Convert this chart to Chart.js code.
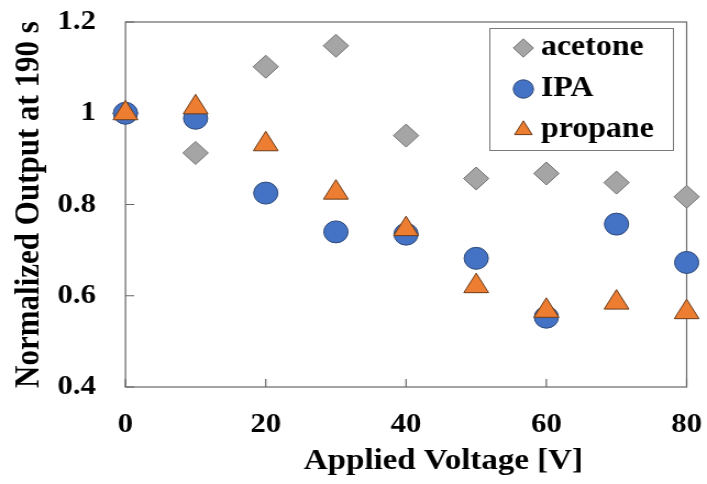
<!DOCTYPE html>
<html>
<head>
<meta charset="utf-8">
<script src="https://cdn.jsdelivr.net/npm/chart.js@4/dist/chart.umd.min.js"></script>
<style>
  html, body { margin: 0; padding: 0; background: #ffffff; overflow: hidden; }
  #wrap { width: 707px; height: 484px; overflow: hidden; }
  /* the figure is drawn a little narrower and widened horizontally */
  #chart { display: block; transform: scaleX(1.0995); transform-origin: 0 0; }
</style>
</head>
<body>
<div id="wrap"><canvas id="chart" width="643" height="484"></canvas></div>
<script>
// Applied voltage (V)
const voltages = [0, 10, 20, 30, 40, 50, 60, 70, 80];
// Normalized output at 190 s for each gas
const acetone = [1.0, 0.913, 1.102, 1.148, 0.951, 0.857, 0.868, 0.848, 0.817];
const ipa     = [1.0, 0.989, 0.825, 0.740, 0.735, 0.682, 0.553, 0.757, 0.673];
const propane = [1.0, 1.013, 0.932, 0.826, 0.746, 0.621, 0.567, 0.585, 0.564];
// Axis ranges and steps
const xTicks = [0, 20, 40, 60, 80];
const yTicks = [0.4, 0.6, 0.8, 1.0, 1.2];
const xTitle = 'Applied Voltage [V]';
const yTitle = 'Normalized Output at 190 s';

const serif = "'Liberation Serif', 'Times New Roman', Times, serif";
const frameColor = '#666666';

function points(ys) {
  return voltages.map((v, i) => ({ x: v, y: ys[i] }));
}

// fixed axis sizes; the outer layout padding alone sets the plot edges
function fixSize(prop, value) {
  return scale => {
    scale[prop] = value;
    scale.paddingTop = scale.paddingBottom = 0;
    scale.paddingLeft = scale.paddingRight = 0;
  };
}

// Plot frame with short inward tick marks, legend box and the x axis title
const framePlugin = {
  id: 'frame',
  beforeDraw(chart) {
    const a = chart.chartArea;
    const ctx = chart.ctx;
    ctx.save();
    const bx = a.right - 180, by = a.top + 6, bw = 167, bh = 122;
    ctx.fillStyle = '#ffffff';
    ctx.fillRect(bx, by, bw, bh);
    ctx.strokeStyle = '#7a7a7a';
    ctx.lineWidth = 1;
    ctx.strokeRect(Math.round(bx) + 0.5, Math.round(by) + 0.5, bw, bh);
    ctx.restore();
  },
  beforeDatasetsDraw(chart) {
    const a = chart.chartArea;
    const ctx = chart.ctx;
    const xs = chart.scales.x, ys = chart.scales.y;
    ctx.save();
    ctx.strokeStyle = frameColor;
    ctx.lineWidth = 1.2;
    ctx.strokeRect(a.left, a.top, a.right - a.left, a.bottom - a.top);
    ctx.beginPath();
    xs.ticks.forEach(t => {
      const px = xs.getPixelForValue(t.value);
      ctx.moveTo(px, a.bottom);
      ctx.lineTo(px, a.bottom - 8);
    });
    ys.ticks.forEach(t => {
      const py = ys.getPixelForValue(t.value);
      ctx.moveTo(a.left, py);
      ctx.lineTo(a.left + 8, py);
    });
    ctx.stroke();
    ctx.fillStyle = '#000000';
    ctx.font = 'bold 30px ' + serif;
    ctx.textAlign = 'center';
    ctx.textBaseline = 'middle';
    ctx.fillText(xTitle, (a.left + a.right) / 2 + 34, 461);
    ctx.restore();
  },
  afterLayout(chart) {
    // legend sits in the upper right corner of the plot
    const a = chart.chartArea;
    const lg = chart.legend;
    if (!lg) return;
    lg.left = a.right - 162;
    lg.top = a.top - 0.5;
    lg.right = lg.left + 200;
    lg.bottom = lg.top + 300;
  }
};

Chart.defaults.color = '#000000';
Chart.defaults.font.family = serif;
Chart.defaults.font.weight = 'bold';

new Chart(document.getElementById('chart'), {
  type: 'scatter',
  data: {
    datasets: [
      {
        label: 'acetone',
        data: points(acetone),
        pointStyle: 'rectRot',
        pointRadius: 11.5,
        pointHoverRadius: 11.5,
        backgroundColor: '#a5a5a5',
        borderColor: '#707070',
        borderWidth: 1,
        order: 3,
        clip: false
      },
      {
        label: 'IPA',
        data: points(ipa),
        pointStyle: 'circle',
        pointRadius: 11,
        pointHoverRadius: 11,
        backgroundColor: '#4472c4',
        borderColor: '#2f4a78',
        borderWidth: 1,
        order: 2,
        clip: false
      },
      {
        label: 'propane',
        data: points(propane),
        pointStyle: 'triangle',
        pointRadius: 13,
        pointHoverRadius: 13,
        backgroundColor: '#ed7d31',
        borderColor: '#6b3c1a',
        borderWidth: 1,
        order: 1,
        clip: false
      }
    ]
  },
  options: {
    responsive: false,
    animation: false,
    devicePixelRatio: 1,
    events: [],
    layout: { padding: { top: 22, right: 18.5, bottom: 0, left: 0 } },
    plugins: {
      tooltip: { enabled: false },
      legend: {
        position: 'chartArea',
        fullSize: false,
        align: 'start',
        labels: {
          usePointStyle: true,
          boxWidth: 3,
          boxHeight: 13,
          padding: 12,
          color: '#000000',
          font: { size: 29, weight: 'bold', family: serif },
          sort: (a, b) => a.datasetIndex - b.datasetIndex
        }
      }
    },
    scales: {
      x: {
        type: 'linear',
        min: xTicks[0],
        max: xTicks[xTicks.length - 1],
        afterFit: fixSize('height', 97),
        afterBuildTicks(scale) { scale.ticks = xTicks.map(v => ({ value: v })); },
        grid: { display: true, drawOnChartArea: false, drawTicks: false },
        border: { display: false },
        ticks: {
          padding: 21,
          color: '#000000',
          font: { size: 28, weight: 'bold', family: serif }
        },
        title: { display: false }
      },
      y: {
        type: 'linear',
        min: yTicks[0],
        max: yTicks[yTicks.length - 1],
        afterFit: fixSize('width', 114.1),
        afterBuildTicks(scale) { scale.ticks = yTicks.map(v => ({ value: v })); },
        grid: { display: true, drawOnChartArea: false, drawTicks: false },
        border: { display: false },
        ticks: {
          padding: 26.8,
          color: '#000000',
          font: { size: 28, weight: 'bold', family: serif },
          callback: v => String(Math.round(v * 10) / 10)
        },
        title: {
          display: true,
          text: yTitle,
          color: '#000000',
          font: { size: 31, weight: 'bold', family: serif },
          padding: { top: 8, bottom: 0 }
        }
      }
    }
  },
  plugins: [framePlugin]
});
</script>
</body>
</html>
